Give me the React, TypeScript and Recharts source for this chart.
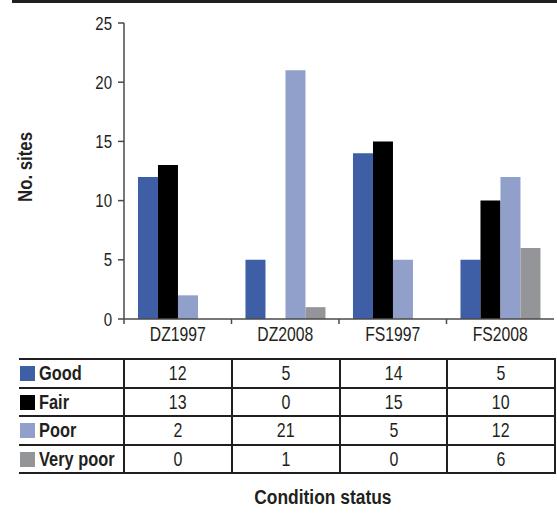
import React from 'react';
import { BarChart, Bar, XAxis, YAxis } from 'recharts';

const CATEGORIES = ['DZ1997', 'DZ2008', 'FS1997', 'FS2008'];
const GOOD = [12, 5, 14, 5];
const FAIR = [13, 0, 15, 10];
const POOR = [2, 21, 5, 12];
const VERY_POOR = [0, 1, 0, 6];
const Y_TICKS = [0, 5, 10, 15, 20, 25];

const SERIES = [
  { key: 'good', label: 'Good', color: '#3e5ea6', values: GOOD },
  { key: 'fair', label: 'Fair', color: '#000000', values: FAIR },
  { key: 'poor', label: 'Poor', color: '#91a0cb', values: POOR },
  { key: 'veryPoor', label: 'Very poor', color: '#939598', values: VERY_POOR },
];

const rows = CATEGORIES.map((name, i) => {
  const row: Record<string, string | number> = { name };
  SERIES.forEach((s) => {
    row[s.key] = s.values[i];
  });
  return row;
});

// dar (condensed) yazı yok; Liberation Sans yatayda sıkıştırılıyor
const FONT = "'Liberation Sans', Arial, sans-serif";
const INK = '#231f20';
const AXIS = '#4a4a4a';

function CategoryTick(props: any) {
  const { x, y, payload } = props;
  const half = payload?.offset ?? 0;
  return (
    <g>
      <line x1={x - half} x2={x - half} y1={y - 7} y2={y - 2} stroke={AXIS} strokeWidth={1.5} />
      <text
        transform={`translate(${x},${y}) scale(0.75,1)`}
        dy="0.7em"
        textAnchor="middle"
        fill={INK}
        fontSize={21}
        fontFamily={FONT}
      >
        {payload.value}
      </text>
    </g>
  );
}

function ValueTick(props: any) {
  const { x, y, payload } = props;
  return (
    <text
      transform={`translate(${x},${y}) scale(0.79,1)`}
      dy="0.35em"
      textAnchor="end"
      fill={INK}
      fontSize={19}
      fontFamily={FONT}
    >
      {payload.value}
    </text>
  );
}

function AxisTitle(props: any) {
  const vb = props.viewBox || { x: 0, y: 0, height: 0 };
  const cx = vb.x + 25;
  const cy = vb.y + vb.height / 2 - 4;
  return (
    <text
      transform={`translate(${cx},${cy}) rotate(-90) scale(0.84,1)`}
      dy="0.35em"
      textAnchor="middle"
      fill={INK}
      fontSize={20}
      fontWeight={700}
      fontFamily={FONT}
    >
      No. sites
    </text>
  );
}

function Narrow({ children, origin, scale }: { children: React.ReactNode; origin: string; scale: number }) {
  return (
    <span style={{ display: 'inline-block', transform: `scaleX(${scale})`, transformOrigin: origin }}>{children}</span>
  );
}

const cellBorder = `2px solid ${INK}`;

export default function App() {
  return (
    <div style={{ position: 'absolute', left: 0, top: 0, width: 557, height: 514, background: '#fff', fontFamily: FONT }}>
      <div style={{ position: 'absolute', left: 12, top: 0, width: 545, height: 3, background: INK }} />
      <BarChart
        width={557}
        height={345}
        data={rows}
        margin={{ top: 23, right: 3, bottom: 0, left: 0 }}
        barCategoryGap="13%"
        barGap={0}
      >
        <XAxis
          dataKey="name"
          height={26}
          interval={0}
          tickSize={5}
          tickMargin={2}
          tickLine={false}
          axisLine={{ stroke: AXIS, strokeWidth: 1.5 }}
          tick={<CategoryTick />}
        />
        <YAxis
          width={124}
          domain={[0, 25]}
          ticks={Y_TICKS}
          interval={0}
          tickSize={6}
          tickMargin={6}
          axisLine={{ stroke: AXIS, strokeWidth: 1.5 }}
          tickLine={{ stroke: AXIS, strokeWidth: 1.5 }}
          tick={<ValueTick />}
          label={{ content: <AxisTitle /> }}
        />
        {SERIES.map((s) => (
          <Bar key={s.key} dataKey={s.key} name={s.label} fill={s.color} isAnimationActive={false} />
        ))}
      </BarChart>

      <table
        style={{
          position: 'absolute',
          left: 19,
          top: 358,
          width: 536,
          borderCollapse: 'collapse',
          tableLayout: 'fixed',
          fontSize: 21,
          lineHeight: '24px',
          color: INK,
        }}
      >
        <colgroup>
          <col style={{ width: 105 }} />
          <col style={{ width: 107.75 }} />
          <col style={{ width: 107.75 }} />
          <col style={{ width: 107.75 }} />
          <col style={{ width: 107.75 }} />
        </colgroup>
        <tbody>
          {SERIES.map((s) => (
            <tr key={s.key} style={{ height: 28.5 }}>
              <td style={{ borderTop: cellBorder, borderBottom: cellBorder, padding: '0 0 0 1px', whiteSpace: 'nowrap' }}>
                <span
                  style={{
                    display: 'inline-block',
                    width: 15,
                    height: 15,
                    background: s.color,
                    marginRight: 4,
                    verticalAlign: -1,
                  }}
                />
                <span style={{ fontWeight: 700 }}>
                  <Narrow origin="left center" scale={0.78}>
                    {s.label}
                  </Narrow>
                </span>
              </td>
              {s.values.map((v, i) => (
                <td
                  key={CATEGORIES[i]}
                  style={{
                    border: cellBorder,
                    textAlign: 'center',
                    padding: 0,
                  }}
                >
                  <Narrow origin="center" scale={0.76}>
                    {v}
                  </Narrow>
                </td>
              ))}
            </tr>
          ))}
        </tbody>
      </table>

      <div
        style={{
          position: 'absolute',
          left: 223,
          top: 486,
          width: 200,
          textAlign: 'center',
          fontSize: 20,
          fontWeight: 700,
          color: INK,
        }}
      >
        <Narrow origin="center" scale={0.87}>
          Condition status
        </Narrow>
      </div>
    </div>
  );
}
